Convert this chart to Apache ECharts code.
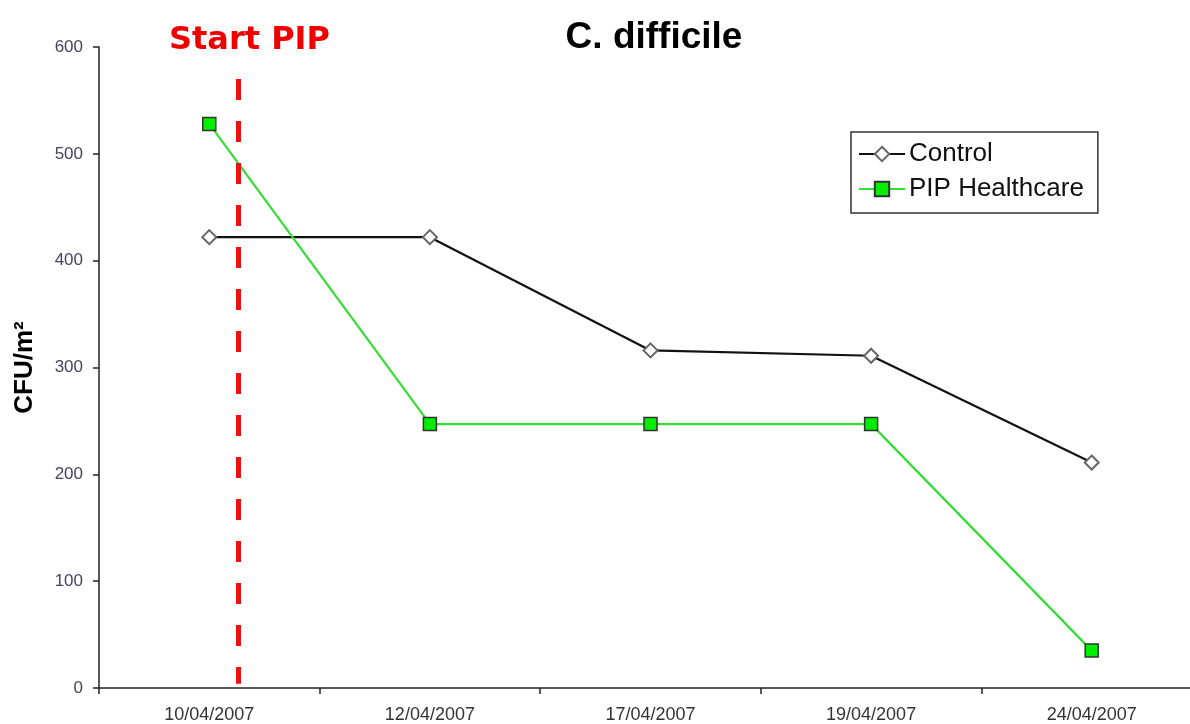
<!DOCTYPE html>
<html><head><meta charset="utf-8">
<script src="https://cdn.jsdelivr.net/npm/echarts@6/dist/echarts.min.js"></script>
<style>html,body{margin:0;padding:0;background:#fff;overflow:hidden}#c{width:1204px;height:724px}</style>
</head><body><div id="c"></div>
<script>
const categories = ['10/04/2007','12/04/2007','17/04/2007','19/04/2007','24/04/2007'];
const controlValues = [422, 422, 316, 311, 211];
const pipValues = [528, 247, 247, 247, 35];
const yTicks = [0, 600, 100];
const startPipX = 0.13;           // position between first two dates (category index units)
const startPipRange = [570, 4];   // vertical extent of the marker, in CFU/m²

const chart = echarts.init(document.getElementById('c'));
chart.setOption({
  animation: false,
  backgroundColor: '#fff',
  title: [
    {text: 'C. difficile', left: 649, top: 14, textAlign: 'center',
     textStyle: {fontFamily: 'Liberation Sans, Arial', fontWeight: 'bold', fontSize: 37, color: '#000'}},
    {text: 'Start PIP', left: 164, top: 20,
     textStyle: {fontFamily: 'DejaVu Sans', fontWeight: 'bold', fontSize: 32, color: '#ee0000'}}
  ],
  legend: {
    orient: 'vertical', left: 851, top: 132,
    borderColor: '#333', borderWidth: 1.5, padding: [9, 14, 11, 7],
    itemGap: 9, itemWidth: 46, itemHeight: 18,
    textStyle: {fontFamily: 'Liberation Sans, Arial', fontSize: 26, color: '#111', padding: [0,0,0,-1]},
    data: ['Control', 'PIP Healthcare']
  },
  grid: {left: 99, top: 47, width: 1103, height: 642},
  xAxis: [{
    type: 'category', data: categories, boundaryGap: true,
    axisLine: {lineStyle: {color: '#222', width: 1.5}},
    axisTick: {show: true, length: 6, inside: false, lineStyle: {color: '#222', width: 1.5}},
    axisLabel: {fontFamily: 'Liberation Sans, Arial', fontSize: 18, color: '#333', margin: 18},
    splitLine: {show: false}
  }, {
    type: 'value', min: -0.5, max: 4.5, show: false
  }],
  yAxis: {
    type: 'value', min: yTicks[0], max: yTicks[1], interval: yTicks[2],
    name: 'CFU/m²', nameLocation: 'middle', nameGap: 61, nameRotate: 90,
    nameTextStyle: {fontFamily: 'Liberation Sans, Arial', fontWeight: 'bold', fontSize: 26, color: '#000'},
    axisLine: {show: true, onZero: false, lineStyle: {color: '#222', width: 1.5}},
    axisTick: {show: true, length: 6, lineStyle: {color: '#222', width: 1.5}},
    axisLabel: {fontFamily: 'Liberation Sans, Arial', fontSize: 17, color: '#4a4060', margin: 16},
    splitLine: {show: false}
  },
  series: [
    {name: 'Control', type: 'line', data: controlValues,
     symbol: 'diamond', symbolSize: 14, showAllSymbol: true,
     lineStyle: {color: '#111', width: 2.2},
     itemStyle: {color: '#fff', borderColor: '#666', borderWidth: 2},
     z: 3},
    {name: 'PIP Healthcare', type: 'line', data: pipValues,
     symbol: 'rect', symbolSize: 13,
     lineStyle: {color: '#33dd33', width: 2.2},
     itemStyle: {color: '#00ee00', borderColor: '#333', borderWidth: 1.5},
     z: 4},
    {name: 'start', type: 'line', xAxisIndex: 1, data: [], silent: true,
     markLine: {
       symbol: ['none','none'], silent: true, label: {show: false},
       lineStyle: {color: '#ee1111', width: 5, type: [21, 21]},
       data: [[{coord: [startPipX, startPipRange[0]]}, {coord: [startPipX, startPipRange[1]]}]]
     }, z: 2}
  ]
});
</script></body></html>
